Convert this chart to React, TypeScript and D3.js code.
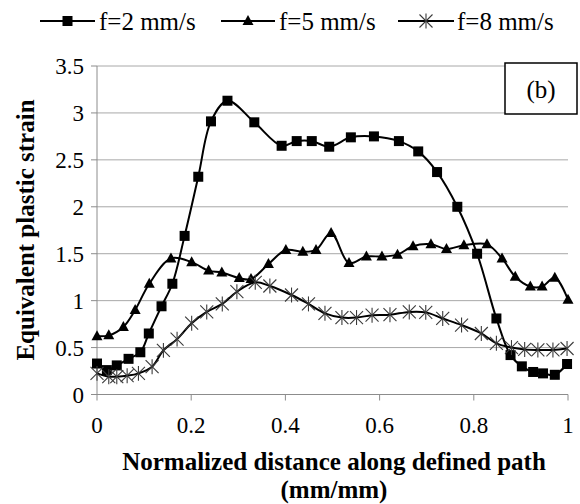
import React from "react";
import * as d3 from "d3";

const yTicks = [0, 0.5, 1, 1.5, 2, 2.5, 3, 3.5];
const xTicks = [0, 0.2, 0.4, 0.6, 0.8, 1];

const f2X = [0, 0.021, 0.042, 0.067, 0.092, 0.11, 0.137, 0.16, 0.186, 0.215, 0.242, 0.277, 0.334, 0.392, 0.424, 0.456, 0.493, 0.539, 0.588, 0.641, 0.682, 0.722, 0.765, 0.807, 0.848, 0.878, 0.902, 0.926, 0.947, 0.972, 0.998];
const f2Y = [0.33, 0.26, 0.31, 0.38, 0.45, 0.65, 0.94, 1.18, 1.69, 2.32, 2.91, 3.13, 2.9, 2.65, 2.7, 2.7, 2.64, 2.74, 2.75, 2.7, 2.59, 2.37, 2.0, 1.5, 0.81, 0.42, 0.3, 0.24, 0.225, 0.21, 0.325];

const f5X = [0, 0.025, 0.056, 0.081, 0.111, 0.157, 0.201, 0.237, 0.265, 0.302, 0.327, 0.364, 0.401, 0.437, 0.465, 0.497, 0.535, 0.572, 0.605, 0.638, 0.671, 0.709, 0.742, 0.779, 0.828, 0.86, 0.888, 0.92, 0.945, 0.972, 1.0];
const f5Y = [0.62, 0.63, 0.72, 0.9, 1.18, 1.45, 1.41, 1.32, 1.3, 1.24, 1.23, 1.39, 1.54, 1.52, 1.54, 1.72, 1.4, 1.47, 1.47, 1.49, 1.58, 1.6, 1.55, 1.59, 1.6, 1.45, 1.255, 1.15, 1.15, 1.245, 1.01];

const f8X = [0, 0.025, 0.042, 0.064, 0.088, 0.117, 0.141, 0.17, 0.201, 0.233, 0.266, 0.297, 0.336, 0.367, 0.413, 0.449, 0.484, 0.52, 0.551, 0.584, 0.622, 0.663, 0.698, 0.734, 0.774, 0.816, 0.848, 0.88, 0.908, 0.936, 0.968, 0.998];
const f8Y = [0.225, 0.19, 0.19, 0.2, 0.225, 0.296, 0.47, 0.59, 0.76, 0.88, 0.965, 1.095, 1.195, 1.156, 1.06, 0.965, 0.865, 0.82, 0.82, 0.845, 0.85, 0.88, 0.875, 0.81, 0.74, 0.65, 0.545, 0.5, 0.48, 0.475, 0.475, 0.49];

const seriesNames = ["f=2 mm/s", "f=5 mm/s", "f=8 mm/s"];

const FONT = "'Liberation Serif', 'Times New Roman', serif";

function Marker({ kind, x, y }: { kind: number; x: number; y: number }) {
  if (kind === 0) {
    return <rect x={x - 5} y={y - 5} width={10} height={10} fill="#000" />;
  }
  if (kind === 1) {
    const h = 10, w = 11;
    return (
      <path
        d={`M${x},${y - h * 0.6}L${x + w / 2},${y + h * 0.4}L${x - w / 2},${y + h * 0.4}Z`}
        fill="#000"
      />
    );
  }
  const r = 6.5;
  return (
    <g stroke="#3a3a3a" strokeWidth={1.1}>
      <line x1={x - r} y1={y - r} x2={x + r} y2={y + r} />
      <line x1={x - r} y1={y + r} x2={x + r} y2={y - r} />
      <line x1={x} y1={y - r * 1.15} x2={x} y2={y + r * 1.15} />
    </g>
  );
}

export default function App() {
  const W = 580, H = 504;
  const x = d3.scaleLinear().domain([0, 1]).range([97, 568]);
  const y = d3.scaleLinear().domain([0, 3.5]).range([394.5, 66]);

  const series = [
    { xs: f2X, ys: f2Y },
    { xs: f5X, ys: f5Y },
    { xs: f8X, ys: f8Y },
  ];

  const line = d3
    .line<[number, number]>()
    .x((d) => x(d[0]))
    .y((d) => y(d[1]))
    .curve(d3.curveCatmullRom.alpha(0.5));

  const legendItems = [
    { x1: 40, x2: 95, tx: 99 },
    { x1: 221, x2: 275, tx: 279 },
    { x1: 398, x2: 454, tx: 457 },
  ];

  return (
    <svg width={W} height={H} style={{ position: "absolute", left: 0, top: 0 }} fontFamily={FONT}>
      <rect width={W} height={H} fill="#fff" />
      {yTicks.slice(1).map((t) => (
        <line key={t} x1={x(0)} x2={x(1)} y1={y(t)} y2={y(t)} stroke="#a8a8a8" strokeWidth={1} />
      ))}
      <line x1={x(0)} x2={x(0)} y1={y(0)} y2={y(3.5)} stroke="#8c8c8c" strokeWidth={1} />
      <line x1={x(0)} x2={x(1)} y1={y(0)} y2={y(0)} stroke="#8c8c8c" strokeWidth={1} />
      {yTicks.map((t) => (
        <g key={t}>
          <line x1={x(0) - 6} x2={x(0)} y1={y(t)} y2={y(t)} stroke="#8c8c8c" />
          <text x={84} y={y(t)} dy="0.35em" textAnchor="end" fontSize={23}>
            {String(t)}
          </text>
        </g>
      ))}
      {xTicks.map((t) => (
        <g key={t}>
          <line x1={x(t)} x2={x(t)} y1={y(0)} y2={y(0) + 6} stroke="#8c8c8c" />
          <text x={x(t)} y={425} dy="0.35em" textAnchor="middle" fontSize={23}>
            {String(t)}
          </text>
        </g>
      ))}
      {series.map((s, i) => {
        const pts = s.xs.map((v, j) => [v, s.ys[j]] as [number, number]);
        return <path key={i} d={line(pts) || ""} fill="none" stroke="#000" strokeWidth={2} />;
      })}
      {series.map((s, i) => (
        <g key={"m" + i}>
          {s.xs.map((v, j) => (
            <Marker key={j} kind={i} x={x(v)} y={y(s.ys[j])} />
          ))}
        </g>
      ))}
      <rect x={505} y={63} width={72} height={51} fill="#fff" stroke="#000" strokeWidth={1.5} />
      <text x={541} y={89} dy="0.35em" textAnchor="middle" fontSize={25}>
        (b)
      </text>
      {legendItems.map((l, i) => (
        <g key={i}>
          <line x1={l.x1} x2={l.x2} y1={21} y2={21} stroke="#000" strokeWidth={2} />
          <Marker kind={i} x={(l.x1 + l.x2) / 2} y={21} />
          <text x={l.tx} y={21} dy="0.35em" fontSize={25}>
            {seriesNames[i]}
          </text>
        </g>
      ))}
      <text
        transform={`translate(25,230) rotate(-90)`}
        textAnchor="middle"
        dy="0.35em"
        fontSize={25}
        fontWeight="bold"
      >
        Equivalent plastic strain
      </text>
      <text x={334} y={470} textAnchor="middle" fontSize={25} fontWeight="bold">
        Normalized distance along defined path
      </text>
      <text x={334} y={498} textAnchor="middle" fontSize={25} fontWeight="bold">
        (mm/mm)
      </text>
    </svg>
  );
}
